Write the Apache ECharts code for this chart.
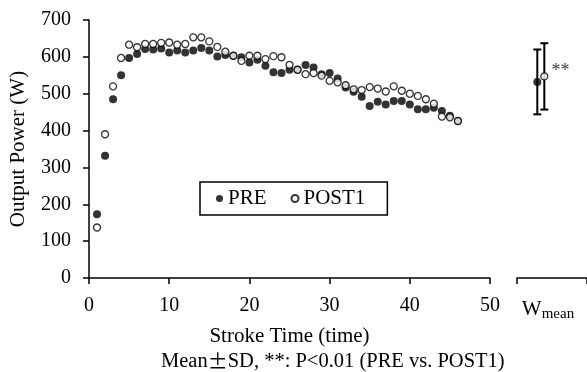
<!DOCTYPE html>
<html>
<head>
<meta charset="utf-8">
<script src="https://cdn.jsdelivr.net/npm/echarts@6/dist/echarts.min.js"></script>
<style>
  html, body { margin: 0; padding: 0; background: #fff; }
  #chart { width: 587px; height: 372px; }
</style>
</head>
<body>
<div id="chart"></div>
<script>
// stroke number 1..46
const strokeTime = [1, 2, 3, 4, 5, 6, 7, 8, 9, 10, 11, 12, 13, 14, 15, 16, 17, 18, 19, 20, 21, 22, 23,
  24, 25, 26, 27, 28, 29, 30, 31, 32, 33, 34, 35, 36, 37, 38, 39, 40, 41, 42, 43, 44, 45, 46];
const prePower = [173, 332, 485, 550, 597, 608, 621, 620, 623, 612, 617, 612, 617, 624, 617, 601, 605, 603,
  599, 585, 592, 576, 558, 556, 565, 565, 578, 571, 553, 556, 541, 517, 505, 492, 467, 478, 471, 480,
  480, 471, 458, 458, 462, 453, 440, 426];
const post1Power = [137, 390, 520, 597, 633, 626, 635, 635, 638, 639, 633, 635, 653, 653, 642, 627, 614, 603,
  589, 603, 603, 594, 602, 599, 578, 565, 553, 556, 549, 535, 531, 523, 512, 510, 518, 514, 506, 520,
  508, 500, 494, 485, 473, 438, 436, 426];

// W mean (mean ± SD)
const wMeanGroups = ['PRE', 'POST1'];
const wMeanValues = [532, 547];
const wMeanSd = [88, 90];

const serif = '"Liberation Serif", "DejaVu Serif", serif';
const wSlot = [2.9, 3.9]; // x slot in the W mean panel

const chart = echarts.init(document.getElementById('chart'));

const toPairs = (xs, ys) => xs.map((x, i) => [x, ys[i]]);

chart.setOption({
  animation: false,
  title: {
    text: 'Mean{pm|±}SD, **: P<0.01 (PRE vs. POST1)',
    left: 156,
    top: 346,
    textStyle: {
      fontFamily: serif, fontSize: 20.5, fontWeight: 'normal', color: '#000',
      rich: { pm: { fontFamily: '"Noto Sans CJK JP"', fontSize: 20, color: '#000' } }
    }
  },
  legend: {
    data: ['PRE', 'POST1'],
    left: 200,
    top: 182,
    itemWidth: 7,
    itemHeight: 7,
    itemGap: 24,
    padding: [6, 22, 6, 16],
    borderColor: '#000',
    borderWidth: 1.5,
    textStyle: { fontFamily: serif, fontSize: 21, color: '#000' }
  },
  grid: [
    { left: 88, right: 97, top: 20, bottom: 94 },
    { left: 517, right: 0, top: 20, bottom: 94 }
  ],
  xAxis: [
    {
      gridIndex: 0, type: 'value', min: 0, max: 50, interval: 10,
      name: 'Stroke Time (time)', nameLocation: 'middle', nameGap: 48,
      nameTextStyle: { fontFamily: serif, fontSize: 21, color: '#000' },
      axisLine: { lineStyle: { color: '#000', width: 1.5 } },
      axisTick: { length: 6, lineStyle: { color: '#000', width: 1.5 } },
      axisLabel: { fontFamily: serif, fontSize: 20, color: '#000', margin: 18 },
      splitLine: { show: false }
    },
    {
      gridIndex: 1, type: 'value', min: 0, max: 10, interval: 10,
      name: '{w|W}{s|mean}', nameLocation: 'middle', nameGap: 19,
      nameTextStyle: {
        padding: [0, 8, 0, 0],
        rich: {
          w: { fontFamily: serif, fontSize: 21, color: '#000' },
          s: { fontFamily: serif, fontSize: 15, color: '#000', padding: [10, 0, 0, 0] }
        }
      },
      axisLine: { lineStyle: { color: '#000', width: 1.5 } },
      axisTick: { length: 6, lineStyle: { color: '#000', width: 1.5 } },
      axisLabel: { show: false },
      splitLine: { show: false }
    }
  ],
  yAxis: [
    {
      gridIndex: 0, type: 'value', min: 0, max: 700, interval: 100,
      name: 'Output Power (W)', nameLocation: 'middle', nameGap: 60,
      nameTextStyle: { fontFamily: serif, fontSize: 21, color: '#000' },
      axisLine: { show: true, lineStyle: { color: '#000', width: 1.5 } },
      axisTick: { show: true, length: 6, lineStyle: { color: '#000', width: 1.5 } },
      axisLabel: { fontFamily: serif, fontSize: 20, color: '#000', margin: 18 },
      splitLine: { show: false }
    },
    {
      gridIndex: 1, type: 'value', min: 0, max: 700,
      show: false, splitLine: { show: false }
    }
  ],
  series: [
    {
      name: 'PRE', type: 'scatter', xAxisIndex: 0, yAxisIndex: 0,
      symbol: 'circle', symbolSize: 8,
      itemStyle: { color: '#000' },
      data: toPairs(strokeTime, prePower)
    },
    {
      name: 'POST1', type: 'scatter', xAxisIndex: 0, yAxisIndex: 0,
      symbol: 'circle', symbolSize: 7,
      itemStyle: { color: '#fff', borderColor: '#000', borderWidth: 1.3 },
      data: toPairs(strokeTime, post1Power)
    },
    {
      type: 'custom', xAxisIndex: 1, yAxisIndex: 1,
      data: wMeanGroups.map((g, i) => [wSlot[i], wMeanValues[i] - wMeanSd[i], wMeanValues[i] + wMeanSd[i]]),
      renderItem: function (params, api) {
        const top = api.coord([api.value(0), api.value(2)]);
        const bot = api.coord([api.value(0), api.value(1)]);
        const cap = 4;
        const style = { stroke: '#000', lineWidth: 2 };
        return {
          type: 'group',
          children: [
            { type: 'line', shape: { x1: top[0], y1: top[1], x2: bot[0], y2: bot[1] }, style: style },
            { type: 'line', shape: { x1: top[0] - cap, y1: top[1], x2: top[0] + cap, y2: top[1] }, style: style },
            { type: 'line', shape: { x1: bot[0] - cap, y1: bot[1], x2: bot[0] + cap, y2: bot[1] }, style: style }
          ]
        };
      },
      z: 1
    },
    {
      type: 'scatter', xAxisIndex: 1, yAxisIndex: 1,
      symbol: 'circle', symbolSize: 8,
      itemStyle: { color: '#000' },
      data: [[wSlot[0], wMeanValues[0]]],
      z: 3
    },
    {
      type: 'scatter', xAxisIndex: 1, yAxisIndex: 1,
      symbol: 'circle', symbolSize: 7,
      itemStyle: { color: '#fff', borderColor: '#000', borderWidth: 1.3 },
      label: {
        show: true, position: 'right', distance: 3, offset: [0, -5],
        formatter: '**', fontFamily: serif, fontSize: 18, color: '#000'
      },
      data: [[wSlot[1], wMeanValues[1]]],
      z: 3
    }
  ]
});
</script>
</body>
</html>
